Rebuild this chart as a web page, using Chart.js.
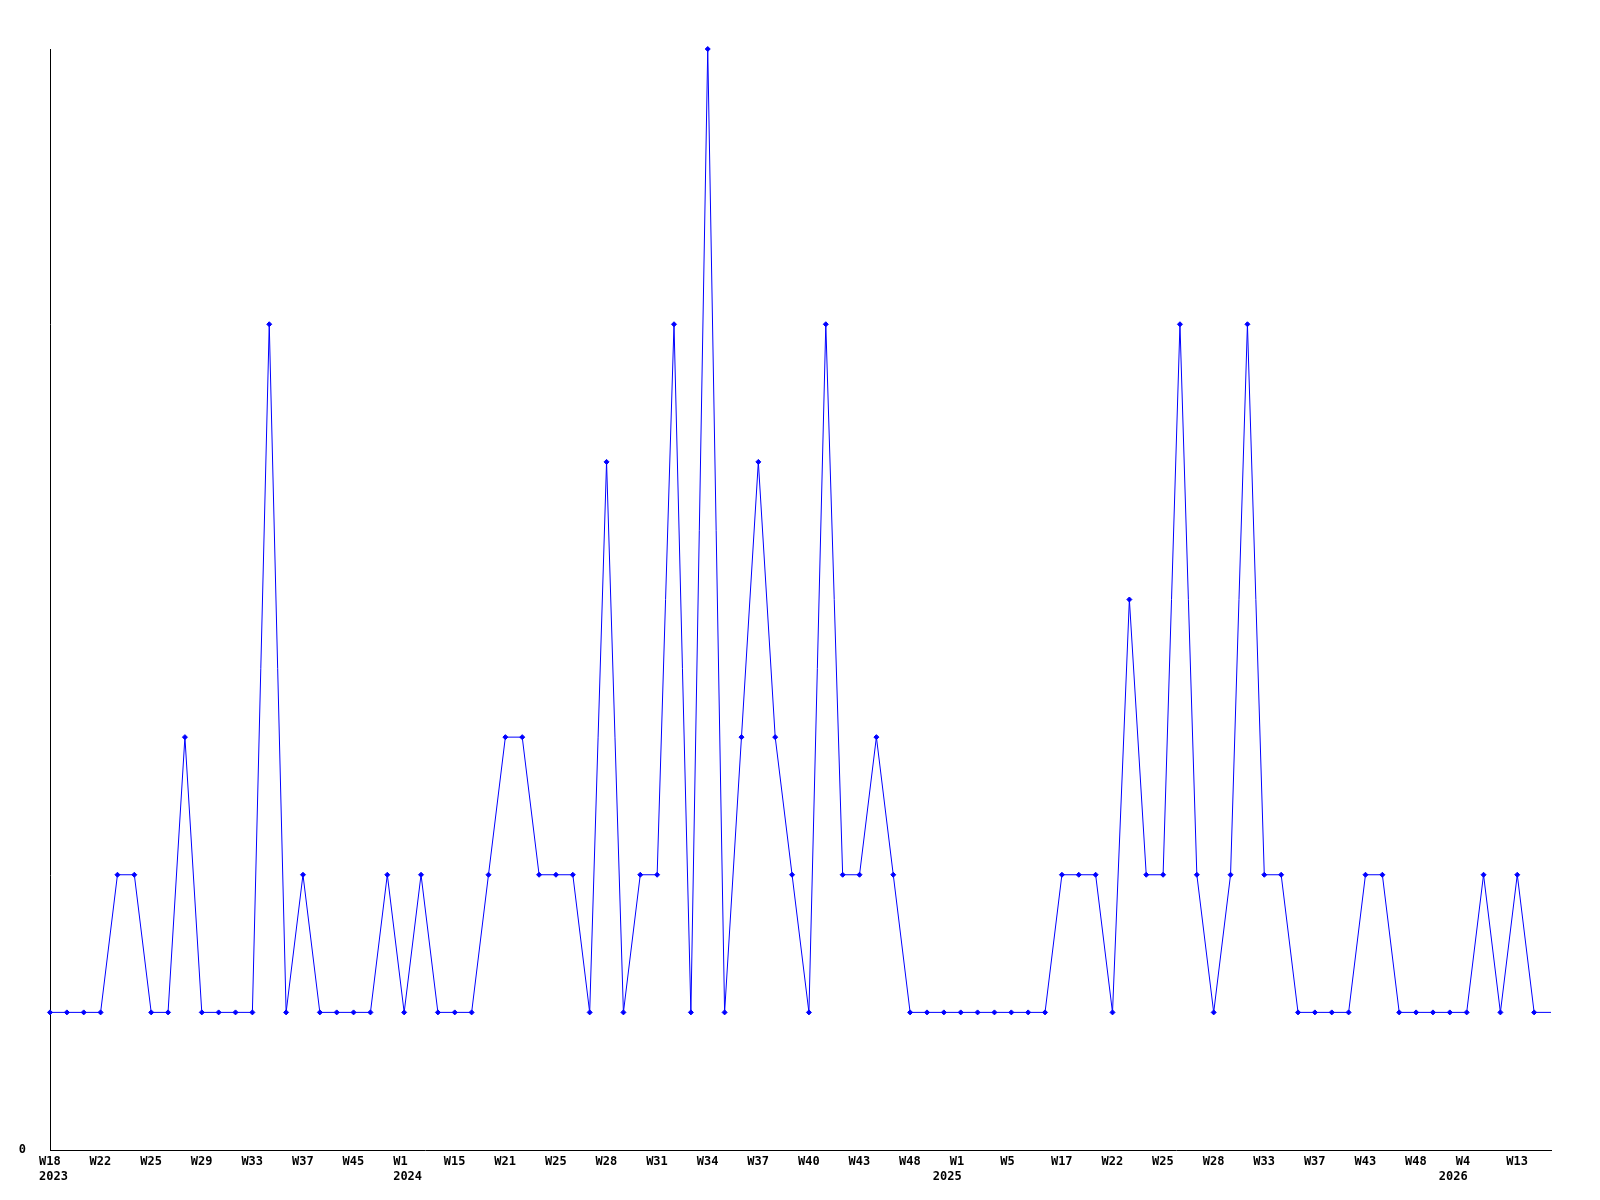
<!DOCTYPE html>
<html>
<head>
<meta charset="utf-8">
<script src="https://cdn.jsdelivr.net/npm/chart.js@4/dist/chart.umd.min.js"></script>
<style>
  html, body { margin: 0; padding: 0; background: #ffffff; }
  #wrap { width: 1600px; height: 1200px; }
</style>
</head>
<body>
<div id="wrap"><canvas id="c" width="1600" height="1200"></canvas></div>
<script>
// Week categories (only every third label is printed on the axis)
const weeks = [
  'W18','W19','W21','W22','W23','W24','W25','W26','W28','W29',
  'W30','W32','W33','W34','W36','W37','W39','W42','W45','W48',
  'W50','W1','W6','W11','W15','W17','W19','W21','W22','W24',
  'W25','W26','W27','W28','W29','W30','W31','W32','W33','W34',
  'W35','W36','W37','W38','W39','W40','W41','W42','W43','W45',
  'W46','W48','W50','W51','W1','W2','W4','W5','W9','W13',
  'W17','W19','W20','W22','W23','W24','W25','W26','W27','W28',
  'W30','W32','W33','W34','W35','W37','W39','W41','W43','W44',
  'W46','W48','W50','W52','W4','W7','W10','W13','W15','W16'
];
// Year labels, keyed by the category index they are printed under
const yearIndex = [0, 21, 53, 83];
const yearText  = ['2023', '2024', '2025', '2026'];
const labelEvery = 3;

const values = [
  1,1,1,1,2,2,1,1,3,1,
  1,1,1,6,1,2,1,1,1,1,
  2,1,2,1,1,1,2,3,3,2,
  2,2,1,5,1,2,2,6,1,8,
  1,3,5,3,2,1,6,2,2,3,
  2,1,1,1,1,1,1,1,1,1,
  2,2,2,1,4,2,2,6,2,1,
  2,6,2,2,1,1,1,1,2,2,
  1,1,1,1,1,2,1,2,1,1
];

const yMin = 0;
const yMax = 8;

const blue = '#0000ff';
const tickFont = { family: 'DejaVu Sans Mono', size: 12, weight: 'bold' };
const labelShift = -11;
const pointRadii = values.map((v, i) => i === values.length - 1 ? 0 : 2.5);

const yearPlugin = {
  id: 'yearLabels',
  afterDraw(chart) {
    const xs = chart.scales.x;
    const ctx = chart.ctx;
    ctx.save();
    ctx.font = 'bold 12px "DejaVu Sans Mono"';
    ctx.fillStyle = '#000000';
    ctx.textAlign = 'left';
    ctx.textBaseline = 'middle';
    const y = xs.top + 27;
    yearIndex.forEach((idx, k) => {
      ctx.fillText(yearText[k], xs.getPixelForValue(idx) + labelShift, y);
    });
    ctx.restore();
  }
};

new Chart(document.getElementById('c'), {
  type: 'line',
  data: {
    labels: weeks,
    datasets: [{
      data: values,
      borderColor: blue,
      backgroundColor: blue,
      borderWidth: 1,
      tension: 0,
      fill: false,
      clip: false,
      pointStyle: 'rectRot',
      pointRadius: pointRadii,
      pointBorderWidth: 1,
      pointBorderColor: blue,
      pointBackgroundColor: blue
    }]
  },
  plugins: [yearPlugin],
  options: {
    responsive: false,
    animation: false,
    devicePixelRatio: 1,
    layout: { padding: { left: 0, right: 49, top: 49, bottom: 0 } },
    plugins: { legend: { display: false }, tooltip: { enabled: false } },
    scales: {
      x: {
        type: 'category',
        offset: false,
        grid: { display: false, drawTicks: false },
        border: { display: true, color: '#000000', width: 1 },
        afterFit: (s) => { s.height = 50; },
        ticks: {
          autoSkip: false,
          maxRotation: 0,
          minRotation: 0,
          align: 'start',
          labelOffset: labelShift,
          padding: 5,
          color: '#000000',
          font: tickFont,
          callback: function (val, idx) {
            return idx % labelEvery === 0 ? weeks[idx] : '';
          }
        }
      },
      y: {
        min: yMin,
        max: yMax,
        grid: { display: false, drawTicks: false },
        border: { display: true, color: '#000000', width: 1 },
        afterFit: (s) => { s.width = 50; },
        afterBuildTicks: (s) => { s.ticks = [{ value: 0 }]; },
        ticks: {
          padding: 24,
          color: '#000000',
          font: tickFont,
          callback: (v) => String(v)
        }
      }
    }
  }
});
</script>
</body>
</html>
